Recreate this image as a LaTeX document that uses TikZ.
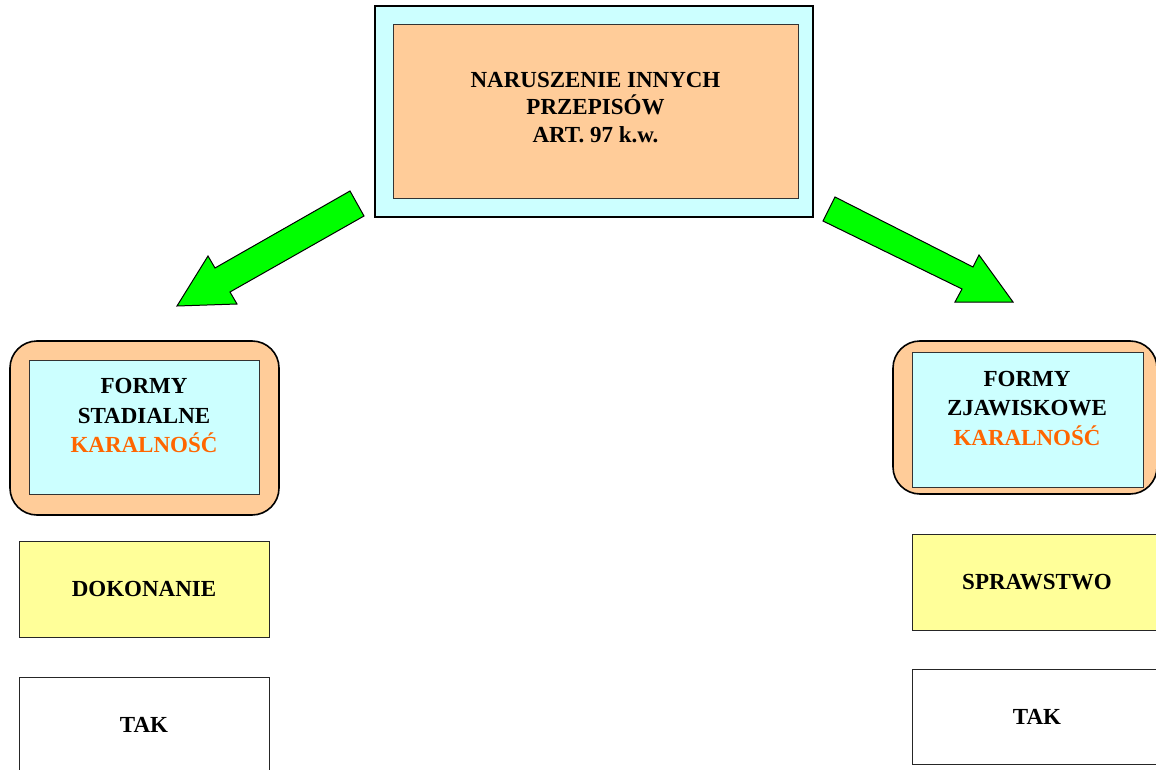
\documentclass[tikz,border=0pt]{standalone}
\usepackage{fontspec}
\setmainfont{Liberation Serif}
\definecolor{paleCyan}{HTML}{CCFFFF}
\definecolor{peach}{HTML}{FFCC99}
\definecolor{paleYellow}{HTML}{FFFF99}
\definecolor{brightGreen}{HTML}{00FF00}
\definecolor{karaOrange}{HTML}{FF6600}
\begin{document}
\begin{tikzpicture}[x=1pt, y=-1pt,
    artOuter/.style={draw, fill=paleCyan, line width=1.3pt, inner sep=0pt, minimum width=438pt, minimum height=211pt},
    artInner/.style={draw=black!80, fill=peach, line width=0.8pt, inner sep=0pt, minimum width=405pt, minimum height=174pt},
    formOuter/.style={draw, fill=peach, line width=1.6pt, rounded corners=27pt, inner sep=0pt},
    formInner/.style={draw=black!80, fill=paleCyan, line width=0.8pt, inner sep=0pt},
    formText/.style={align=center, font=\fontsize{23}{29.5}\selectfont\bfseries},
    stageBox/.style={draw=black!85, line width=0.9pt, inner sep=0pt, minimum width=250pt, minimum height=96pt, font=\fontsize{23}{28}\selectfont\bfseries},
    bigArrow/.style={draw, fill=brightGreen, line width=1pt, line join=miter}]

    \useasboundingbox (0, 0) rectangle (1156, 770);

    % gorny blok
    \node[artOuter] (artOut) at (594, 111.5) {};
    \node[artInner] (artIn) at (595.5, 111) {};
    \node[align=center, font=\fontsize{23}{27.5}\selectfont\bfseries] (artText) at (595.5, 107.5)
        {NARUSZENIE INNYCH\\PRZEPISÓW\\ART. 97 k.w.};

    % strzalki
    \draw[bigArrow] (350, 191) -- (364, 216) -- (230, 292) -- (237, 304) -- (177, 306)
        -- (208, 256) -- (215, 268) -- cycle;
    \draw[bigArrow] (835, 197) -- (823, 221) -- (962, 289) -- (955, 302) -- (1013, 302)
        -- (979, 255) -- (973, 267) -- cycle;

    % lewa kolumna
    \node[formOuter, minimum width=269pt, minimum height=174pt] (stadOut) at (144.5, 428) {};
    \node[formInner, minimum width=230pt, minimum height=134pt] (stadIn) at (144, 427) {};
    \node[formText] (stadText) at (144, 415.5) {FORMY\\STADIALNE\\\textcolor{karaOrange}{KARALNOŚĆ}};
    \node[stageBox, fill=paleYellow] (dokon) at (144, 589) {DOKONANIE};
    \node[stageBox, fill=white] (takLeft) at (144, 725) {TAK};

    % prawa kolumna
    \node[formOuter, minimum width=264pt, minimum height=153pt] (zjawOut) at (1025, 417.5) {};
    \node[formInner, minimum width=231pt, minimum height=135pt] (zjawIn) at (1027.5, 419.5) {};
    \node[formText] (zjawText) at (1027, 408) {FORMY\\ZJAWISKOWE\\\textcolor{karaOrange}{KARALNOŚĆ}};
    \node[stageBox, fill=paleYellow] (spraw) at (1037, 582) {SPRAWSTWO};
    \node[stageBox, fill=white, minimum height=95pt] (takRight) at (1037, 716.5) {TAK};
\end{tikzpicture}
\end{document}
